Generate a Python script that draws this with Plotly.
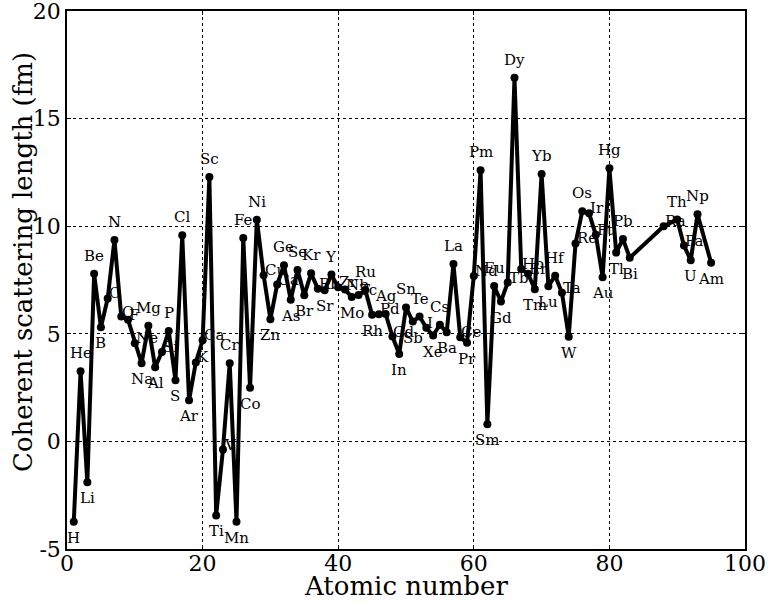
import plotly.graph_objects as go

# Atomic numbers, element symbols and coherent scattering lengths (fm)
atomic_numbers = [1, 2, 3, 4, 5, 6, 7, 8, 9, 10, 11, 12, 13, 14, 15, 16, 17, 18, 19, 20,
                  21, 22, 23, 24, 25, 26, 27, 28, 29, 30, 31, 32, 33, 34, 35, 36, 37, 38, 39, 40,
                  41, 42, 43, 44, 45, 46, 47, 48, 49, 50, 51, 52, 53, 54, 55, 56, 57, 58, 59, 60,
                  61, 62, 63, 64, 65, 66, 67, 68, 69, 70, 71, 72, 73, 74, 75, 76, 77, 78, 79, 80,
                  81, 82, 83, 88, 90, 91, 92, 93, 95]
symbols = ["H", "He", "Li", "Be", "B", "C", "N", "O", "F", "Ne", "Na", "Mg", "Al", "Si", "P", "S",
           "Cl", "Ar", "K", "Ca", "Sc", "Ti", "V", "Cr", "Mn", "Fe", "Co", "Ni", "Cu", "Zn", "Ga",
           "Ge", "As", "Se", "Br", "Kr", "Rb", "Sr", "Y", "Zr", "Nb", "Mo", "Tc", "Ru", "Rh", "Pd",
           "Ag", "Cd", "In", "Sn", "Sb", "Te", "I", "Xe", "Cs", "Ba", "La", "Ce", "Pr", "Nd", "Pm",
           "Sm", "Eu", "Gd", "Tb", "Dy", "Ho", "Er", "Tm", "Yb", "Lu", "Hf", "Ta", "W", "Re", "Os",
           "Ir", "Pt", "Au", "Hg", "Tl", "Pb", "Bi", "Ra", "Th", "Pa", "U", "Np", "Am"]
scattering_length = [-3.739, 3.26, -1.90, 7.79, 5.30, 6.646, 9.36, 5.803, 5.654, 4.566, 3.63, 5.375,
                     3.449, 4.149, 5.13, 2.847, 9.577, 1.909, 3.67, 4.70, 12.29, -3.438, -0.382, 3.635,
                     -3.73, 9.45, 2.49, 10.3, 7.718, 5.68, 7.288, 8.185, 6.58, 7.97, 6.795, 7.81, 7.09,
                     7.02, 7.75, 7.16, 7.054, 6.715, 6.8, 7.03, 5.88, 5.91, 5.922, 4.87, 4.065, 6.225,
                     5.57, 5.80, 5.28, 4.92, 5.42, 5.07, 8.24, 4.84, 4.58, 7.69, 12.6, 0.80, 7.22, 6.5,
                     7.38, 16.9, 8.01, 7.79, 7.07, 12.43, 7.21, 7.7, 6.91, 4.86, 9.2, 10.7, 10.6, 9.60,
                     7.63, 12.692, 8.776, 9.405, 8.532, 10.0, 10.31, 9.1, 8.417, 10.55, 8.3]

x_ticks = [0, 20, 40, 60, 80, 100]
y_ticks = [-5, 0, 5, 10, 15, 20]
x_title = "Atomic number"
y_title = "Coherent scattering length (fm)"

font_family = "DejaVu Serif"

fig = go.Figure()
fig.add_trace(go.Scatter(
    x=atomic_numbers, y=scattering_length, mode="lines+markers",
    line=dict(color="black", width=4),
    marker=dict(color="black", size=8, symbol="circle"),
    showlegend=False, hoverinfo="x+y",
))

annotations = []
n = len(scattering_length)
for i in range(n):
    v = scattering_length[i]
    neigh = []
    if i > 0:
        neigh.append(scattering_length[i - 1])
    if i < n - 1:
        neigh.append(scattering_length[i + 1])
    if all(v > w for w in neigh):
        pos = dict(xanchor="center", yanchor="middle", xshift=0, yshift=18)
    elif all(v < w for w in neigh):
        pos = dict(xanchor="center", yanchor="middle", xshift=0, yshift=-16)
    else:
        pos = dict(xanchor="left", yanchor="middle", xshift=-1, yshift=5)
    annotations.append(dict(
        x=atomic_numbers[i], y=v, text=symbols[i], showarrow=False,
        font=dict(family=font_family, size=15, color="black"), **pos))

plot_l, plot_r, plot_t, plot_b = 67, 23, 11, 56
plot_w = 768 - plot_l - plot_r
plot_h = 605 - plot_t - plot_b

# axis titles as annotations for exact placement
annotations.append(dict(
    xref="paper", yref="paper", x=(23 - plot_l) / plot_w, y=(605 - plot_b - 262) / plot_h,
    text=y_title, textangle=-90, showarrow=False, xanchor="center", yanchor="middle",
    font=dict(family=font_family, size=26, color="black")))
annotations.append(dict(
    xref="paper", yref="paper", x=(406 - plot_l) / plot_w, y=-(586 - (605 - plot_b)) / plot_h,
    text=x_title, showarrow=False, xanchor="center", yanchor="middle",
    font=dict(family=font_family, size=26, color="black")))

axis_common = dict(
    showline=True, linecolor="black", linewidth=1.5, mirror="ticks",
    ticks="inside", ticklen=4, tickcolor="black", automargin=False,
    ticklabeloverflow="allow",
    showgrid=True, gridcolor="black", gridwidth=0.8, griddash="dot",
    zeroline=False, tickfont=dict(family=font_family, size=22, color="black"),
)

fig.update_layout(
    width=768, height=605,
    margin=dict(l=plot_l, r=plot_r, t=plot_t, b=plot_b),
    paper_bgcolor="white", plot_bgcolor="white",
    font=dict(family=font_family, color="black"),
    annotations=annotations,
    xaxis=dict(range=[0, 100], tickvals=x_ticks, ticktext=[str(t) for t in x_ticks],
               ticklabelstandoff=-6, **axis_common),
    yaxis=dict(range=[-5, 20], tickvals=y_ticks, ticktext=[str(t) for t in y_ticks],
               ticklabelstandoff=0, **axis_common),
)

fig.write_html("out.html")
